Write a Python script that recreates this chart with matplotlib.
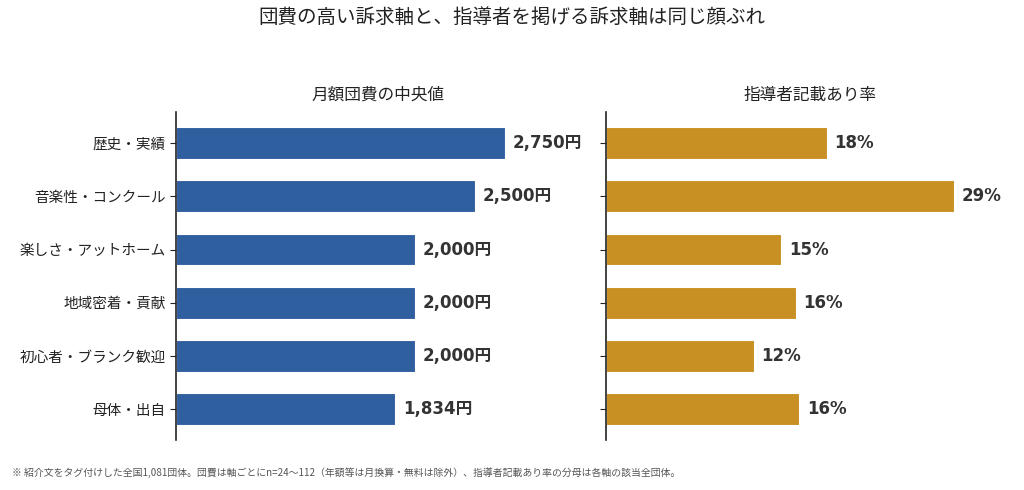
import matplotlib
matplotlib.use("Agg")
import matplotlib.pyplot as plt

plt.rcParams['font.family'] = ['Noto Sans CJK JP', 'DejaVu Sans']

categories = ['歴史・実績', '音楽性・コンクール', '楽しさ・アットホーム',
              '地域密着・貢献', '初心者・ブランク歓迎', '母体・出自']
fee_median = [2750, 2500, 2000, 2000, 2000, 1834]
leader_rate = [18.4, 29.0, 14.6, 15.8, 12.3, 16.1]

BLUE = '#2F5F9F'
GOLD = '#C88F22'
TEXT = '#333333'
LABEL_FONT = ['DejaVu Sans', 'Noto Sans CJK JP']


def style_axis(ax):
    for side in ['top', 'right', 'bottom']:
        ax.spines[side].set_visible(False)
    ax.spines['left'].set_color('#222222')
    ax.spines['left'].set_linewidth(1.2)
    ax.set_xticks([])
    ax.tick_params(axis='y', length=4, color='#222222', labelsize=10.5, labelcolor='#222222')
    ax.invert_yaxis()


def main():
    fig = plt.figure(figsize=(10.24, 4.9), dpi=100)
    ax1 = fig.add_axes([0.172, 0.102, 0.395, 0.669])
    ax2 = fig.add_axes([0.592, 0.102, 0.398, 0.669])

    y = range(len(categories))

    ax1.barh(y, fee_median, height=0.6, color=BLUE, edgecolor='white', linewidth=0.8)
    ax1.set_yticks(list(y))
    ax1.set_yticklabels(categories)
    ax1.set_xlim(0, 3385)
    style_axis(ax1)
    ax1.set_title('月額団費の中央値', fontsize=12, color='#222222', pad=9)
    for i, v in enumerate(fee_median):
        ax1.annotate(f'{v:,}円', (v, i), xytext=(5.5, 0), textcoords='offset points',
                     va='center', ha='left', fontsize=12, fontweight='bold',
                     color=TEXT, family=LABEL_FONT)

    ax2.barh(y, leader_rate, height=0.6, color=GOLD, edgecolor='white', linewidth=0.8)
    ax2.set_yticks(list(y))
    ax2.set_yticklabels([])
    ax2.set_xlim(0, 34)
    style_axis(ax2)
    ax2.set_title('指導者記載あり率', fontsize=12, color='#222222', pad=9)
    for i, v in enumerate(leader_rate):
        ax2.annotate(f'{v:.0f}%', (v, i), xytext=(5.5, 0), textcoords='offset points',
                     va='center', ha='left', fontsize=12, fontweight='bold',
                     color=TEXT, family=LABEL_FONT)

    fig.suptitle('団費の高い訴求軸と、指導者を掲げる訴求軸は同じ顔ぶれ',
                 fontsize=14, color='#222222', y=0.985)
    fig.text(0.012, 0.035,
             '※ 紹介文をタグ付けした全国1,081団体。団費は軸ごとにn=24〜112（年額等は月換算・無料は除外）、指導者記載あり率の分母は各軸の該当全団体。',
             fontsize=7.1, color='#555555', ha='left', va='center')

    fig.savefig('out.png', dpi=100)
    plt.close(fig)


if __name__ == "__main__":
    main()
